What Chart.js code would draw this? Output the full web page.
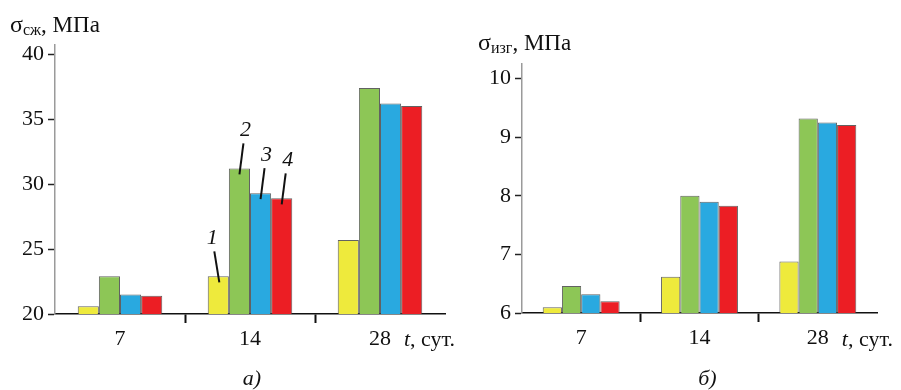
<!DOCTYPE html>
<html><head><meta charset="utf-8">
<script src="https://cdn.jsdelivr.net/npm/chart.js@4"></script>
<style>
html,body{margin:0;padding:0;background:#fff;width:901px;height:390px;overflow:hidden}
#wa{position:absolute;left:0;top:0;width:470px;height:390px}
#wb{position:absolute;left:450px;top:0;width:451px;height:390px}
canvas{display:block}
</style></head><body>
<div id="wa"><canvas id="ca" width="470" height="390"></canvas></div>
<div id="wb"><canvas id="cb" width="451" height="390"></canvas></div>
<script>
// ---- data ----
const categories = ['7', '14', '28'];
const seriesLabels = ['1', '2', '3', '4'];
const seriesColors = ['#EEEA3C', '#8DC656', '#29A9E0', '#EC1E24'];
// compressive strength, MPa (chart a)
const compYellow = [20.6, 22.9, 25.7];
const compGreen  = [22.9, 31.2, 37.4];
const compBlue   = [21.5, 29.3, 36.2];
const compRed    = [21.4, 28.9, 36.0];
const compTicks  = [20, 25, 30, 35, 40];
// bending strength, MPa (chart b)
const bendYellow = [6.1, 6.62, 6.88];
const bendGreen  = [6.46, 8.0, 9.32];
const bendBlue   = [6.32, 7.9, 9.25];
const bendRed    = [6.2, 7.83, 9.21];
const bendTicks  = [6, 7, 8, 9, 10];

const SERIF = "'Liberation Serif', 'Times New Roman', serif";

function drawRich(ctx, x, y, parts) {
  for (const p of parts) {
    ctx.font = p.font;
    ctx.fillText(p.t, x, y + (p.dy || 0));
    x += ctx.measureText(p.t).width + (p.gap || 0);
  }
}

function makeChart(id, series, ticks, yMax, yWidth, xHeight, pad, deco) {
  const datasets = series.map((vals, i) => ({
    label: seriesLabels[i],
    data: vals,
    backgroundColor: seriesColors[i],
    borderColor: 'rgba(70,70,70,0.85)',
    borderWidth: 1,
    categoryPercentage: 0.65,
    barPercentage: 1.0
  }));
  return new Chart(document.getElementById(id), {
    type: 'bar',
    data: { labels: categories, datasets },
    options: {
      responsive: false,
      animation: false,
      devicePixelRatio: 1,
      layout: { padding: pad },
      plugins: { legend: { display: false }, tooltip: { enabled: false } },
      scales: {
        x: {
          type: 'category',
          offset: true,
          afterFit: s => { s.height = xHeight; },
          border: { display: true, color: '#111', width: 1.5 },
          grid: {
            offset: true, drawOnChartArea: false, drawTicks: true,
            tickLength: 9, tickWidth: 2,
            tickColor: c => (c.index > 0 ? '#111' : 'rgba(0,0,0,0)')
          },
          ticks: { color: '#111', font: { family: SERIF, size: 22 }, padding: 3 }
        },
        y: {
          min: ticks[0], max: yMax,
          afterFit: s => { s.width = yWidth; },
          afterBuildTicks: s => { s.ticks = ticks.map(v => ({ value: v })); },
          border: { display: true, color: '#9a9a9a', width: 1.5 },
          grid: { drawOnChartArea: false, tickLength: 7, tickWidth: 1.5, tickColor: '#222' },
          ticks: { color: '#111', font: { family: SERIF, size: 22 }, padding: 4 }
        }
      }
    },
    plugins: [{ id: 'deco', afterDraw: chart => deco(chart) }]
  });
}

makeChart('ca', [compYellow, compGreen, compBlue, compRed], compTicks, 40.7, 55, 76,
  { left: 0, right: 25, top: 45, bottom: 0 },
  chart => {
    const ctx = chart.ctx;
    ctx.save();
    ctx.fillStyle = '#111';
    ctx.textBaseline = 'alphabetic';
    ctx.textAlign = 'left';
    drawRich(ctx, 10, 32, [
      { t: 'σ', font: `24px ${SERIF}` },
      { t: 'сж', font: `16px ${SERIF}`, dy: 3 },
      { t: ', МПа', font: `23px ${SERIF}` }
    ]);
    const xs = chart.scales.x;
    const x28 = xs.getPixelForTick(2);
    drawRich(ctx, x28 + 24, 346, [
      { t: 't', font: `italic 22px ${SERIF}` },
      { t: ', сут.', font: `22px ${SERIF}` }
    ]);
    ctx.textAlign = 'center';
    ctx.font = `italic 22px ${SERIF}`;
    ctx.fillText('а)', xs.getPixelForTick(1) + 2, 385);
    // numbered leaders on the 14-day group
    ctx.strokeStyle = '#111';
    ctx.lineWidth = 2;
    ctx.font = `italic 22px ${SERIF}`;
    for (let i = 0; i < 4; i++) {
      const el = chart.getDatasetMeta(i).data[1];
      const dir = i === 0 ? -1 : 1;
      ctx.beginPath();
      ctx.moveTo(el.x + (i === 0 ? 1 : 0), el.y + 6);
      ctx.lineTo(el.x + 4 * dir, el.y - 25);
      ctx.stroke();
      ctx.textBaseline = 'middle';
      ctx.fillText(seriesLabels[i], el.x + 6 * dir, el.y - 38);
    }
    ctx.restore();
  });

makeChart('cb', [bendYellow, bendGreen, bendBlue, bendRed], bendTicks, 10.25, 72, 77,
  { left: 0, right: 24, top: 64, bottom: 0 },
  chart => {
    const ctx = chart.ctx;
    ctx.save();
    ctx.fillStyle = '#111';
    ctx.textBaseline = 'alphabetic';
    ctx.textAlign = 'left';
    drawRich(ctx, 28, 50, [
      { t: 'σ', font: `24px ${SERIF}` },
      { t: 'изг', font: `16px ${SERIF}`, dy: 3 },
      { t: ', МПа', font: `23px ${SERIF}` }
    ]);
    const xs = chart.scales.x;
    const x28 = xs.getPixelForTick(2);
    drawRich(ctx, x28 + 24, 346, [
      { t: 't', font: `italic 22px ${SERIF}` },
      { t: ', сут.', font: `22px ${SERIF}` }
    ]);
    ctx.textAlign = 'center';
    ctx.font = `italic 22px ${SERIF}`;
    ctx.fillText('б)', xs.getPixelForTick(1) + 8, 385);
    ctx.restore();
  });
</script>
</body></html>
